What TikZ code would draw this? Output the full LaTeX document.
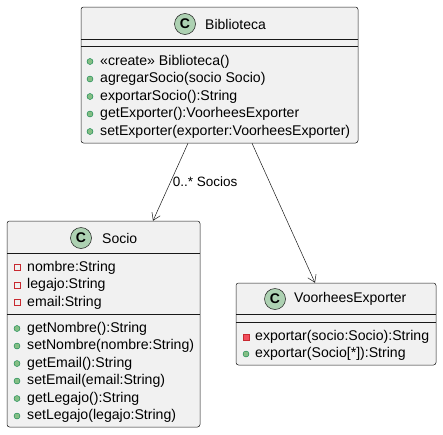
\documentclass[tikz,border=0pt]{standalone}
\usepackage{fontspec}
\setmainfont{Liberation Sans}
\usetikzlibrary{arrows.meta}

\definecolor{umlline}{HTML}{181818}
\definecolor{umlfill}{HTML}{F1F1F1}
\definecolor{umlclass}{HTML}{ADD1B2}
\definecolor{pubfill}{HTML}{84BE84}
\definecolor{publine}{HTML}{038048}
\definecolor{privline}{HTML}{C82930}
\definecolor{privfill}{HTML}{F24D5C}

\tikzset{
  classbox/.style={draw=umlline,fill=umlfill,line width=0.5pt,rounded corners=2.5pt,inner sep=0pt},
  sepline/.style={draw=umlline,line width=0.5pt},
  classicon/.style={circle,draw=umlline,fill=umlclass,line width=0.5pt,minimum size=21pt,inner sep=0pt,
    font=\fontsize{14}{14}\selectfont\bfseries},
  classname/.style={anchor=west,inner sep=0pt,font=\fontsize{14}{16}\selectfont},
  member/.style={anchor=west,inner sep=0pt,text height=10pt,text depth=3pt,font=\fontsize{14.1}{16}\selectfont},
  pubicon/.style={circle,draw=publine,fill=pubfill,minimum size=6pt,inner sep=0pt,line width=0.4pt},
  privfield/.style={rectangle,draw=privline,minimum size=6pt,inner sep=0pt,line width=0.6pt},
  privmethod/.style={rectangle,draw=privline,fill=privfill,minimum size=6pt,inner sep=0pt,line width=0.4pt},
  assoc/.style={draw=umlline,line width=0.5pt,-{Straight Barb[length=7pt,width=9pt]}},
  assoclabel/.style={right,inner sep=2pt,font=\fontsize{13.5}{15}\selectfont}
}

\begin{document}
\begin{tikzpicture}[x=1pt,y=-1pt]
\useasboundingbox (0,0) rectangle (443,434);

% Biblioteca
\node[classbox,minimum width=277pt,minimum height=136pt] (bib) at (219.5,75) {};
\draw[sepline] (81,39.5) -- (358,39.5);
\draw[sepline] (81,46.5) -- (358,46.5);
\node[classicon] (bibicon) at (185,24) {C};
\node[classname] (bibname) at (205,24) {Biblioteca};

\node[pubicon] (bibi1) at (90,61.5) {};
\node[pubicon] (bibi2) at (90,79) {};
\node[pubicon] (bibi3) at (90,96.5) {};
\node[pubicon] (bibi4) at (90,114) {};
\node[pubicon] (bibi5) at (90,131.5) {};
\node[member] (bibm1) at (100,61.5) {«create» Biblioteca()};
\node[member] (bibm2) at (100,79) {agregarSocio(socio Socio)};
\node[member] (bibm3) at (100,96.5) {exportarSocio():String};
\node[member] (bibm4) at (100,114) {getExporter():VoorheesExporter};
\node[member] (bibm5) at (100,131.5) {setExporter(exporter:VoorheesExporter)};

% Socio
\node[classbox,minimum width=193pt,minimum height=206pt] (socio) at (103.5,324) {};
\draw[sepline] (7,253) -- (200,253);
\draw[sepline] (7,314) -- (200,314);
\node[classicon] (socioicon) at (81,238) {C};
\node[classname] (socioname) at (102,238) {Socio};

\node[privfield] (socioi1) at (17,267.5) {};
\node[privfield] (socioi2) at (17,285) {};
\node[privfield] (socioi3) at (17,302.5) {};
\node[member] (socioa1) at (27,267.5) {nombre:String};
\node[member] (socioa2) at (27,285) {legajo:String};
\node[member] (socioa3) at (27,302.5) {email:String};

\node[pubicon] (socioj1) at (17,328.5) {};
\node[pubicon] (socioj2) at (17,346) {};
\node[pubicon] (socioj3) at (17,363.5) {};
\node[pubicon] (socioj4) at (17,381) {};
\node[pubicon] (socioj5) at (17,398.5) {};
\node[pubicon] (socioj6) at (17,416) {};
\node[member] (sociom1) at (27,328.5) {getNombre():String};
\node[member] (sociom2) at (27,346) {setNombre(nombre:String)};
\node[member] (sociom3) at (27,363.5) {getEmail():String};
\node[member] (sociom4) at (27,381) {setEmail(email:String)};
\node[member] (sociom5) at (27,398.5) {getLegajo():String};
\node[member] (sociom6) at (27,416) {setLegajo(legajo:String)};

% VoorheesExporter
\node[classbox,minimum width=200pt,minimum height=82pt] (vex) at (336,324) {};
\draw[sepline] (236,314) -- (436,314);
\draw[sepline] (236,322) -- (436,322);
\node[classicon] (vexicon) at (275,299) {C};
\node[classname] (vexname) at (294,299) {VoorheesExporter};

\node[privmethod] (vexi1) at (246,337) {};
\node[pubicon] (vexi2) at (246,354) {};
\node[member] (vexm1) at (255,337) {exportar(socio:Socio):String};
\node[member] (vexm2) at (255,354) {exportar(Socio[*]):String};

% associations
\draw[assoc] ([xshift=-31.5pt]bib.south) -- node[assoclabel] (sociolabel) {0..* Socios} ([xshift=49.5pt]socio.north);
\draw[assoc] ([xshift=32.5pt]bib.south) -- ([xshift=-21pt]vex.north);
\end{tikzpicture}
\end{document}
